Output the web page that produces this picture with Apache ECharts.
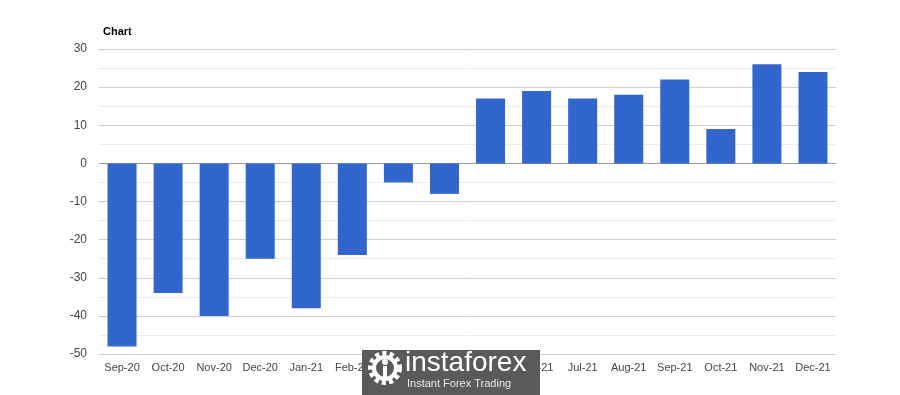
<!DOCTYPE html>
<html><head><meta charset="utf-8">
<script src="https://cdn.jsdelivr.net/npm/echarts@6/dist/echarts.min.js"></script>
<style>html,body{margin:0;padding:0;background:#fff}#c{width:900px;height:395px}</style>
</head><body><div id="c"></div>
<script>
const categories = ['Sep-20','Oct-20','Nov-20','Dec-20','Jan-21','Feb-21','Mar-21','Apr-21','May-21','Jun-21','Jul-21','Aug-21','Sep-21','Oct-21','Nov-21','Dec-21'];
const values = [-48,-34,-40,-25,-38,-24,-5,-8,17,19,17,18,22,9,26,24];
const yMin = -50, yMax = 30, yStep = 10;

const chart = echarts.init(document.getElementById('c'), null, {renderer:'canvas'});
chart.setOption({
  animation:false,
  title:{text:'Chart', left:98, top:21, textStyle:{fontFamily:'Arial, Liberation Sans', fontSize:11, fontWeight:'bold', color:'#000'}},
  grid:{left:99, right:64, top:49, bottom:41},
  xAxis:{type:'category', data:categories,
    axisLine:{show:false}, axisTick:{show:false},
    axisLabel:{color:'#444', fontFamily:'Arial, Liberation Sans', fontSize:11, margin:8, interval:0}},
  yAxis:{type:'value', min:yMin, max:yMax, interval:yStep,
    axisLine:{show:false}, axisTick:{show:false},
    axisLabel:{color:'#444', fontFamily:'Arial, Liberation Sans', fontSize:12, margin:12},
    splitLine:{lineStyle:{color:['#cccccc','#cccccc','#cccccc','#cccccc','#cccccc','#999999','#cccccc','#cccccc','#cccccc'], width:1}},
    minorTick:{show:false, splitNumber:2},
    minorSplitLine:{show:true, lineStyle:{color:'#ececec', width:1}}},
  series:[{type:'bar', data:values, barWidth:'63%', itemStyle:{color:'#3366cc'}, z:1}],
  graphic:[
    {type:'rect', left:362, top:350, shape:{width:178, height:45}, style:{fill:'#5a5a5a'}, z:100},
    {type:'circle', shape:{cx:385, cy:368, r:14}, style:{fill:'none', stroke:'#fff', lineWidth:6, lineDash:[4,3]}, z:101},
    {type:'circle', shape:{cx:385, cy:368, r:11}, style:{fill:'none', stroke:'#fff', lineWidth:4}, z:101},
    {type:'circle', shape:{cx:385, cy:362, r:3}, style:{fill:'#fff'}, z:102},
    {type:'rect', shape:{x:383, y:366, width:4, height:13}, style:{fill:'#fff'}, z:102},
    {type:'text', left:405, top:349, style:{text:'instaforex', fill:'#fff', font:'28px Arial, Liberation Sans'}, z:101},
    {type:'text', left:407, top:378, style:{text:'Instant Forex Trading', fill:'#e8e8e8', font:'11px Arial, Liberation Sans'}, z:101}
  ]
});
</script></body></html>
